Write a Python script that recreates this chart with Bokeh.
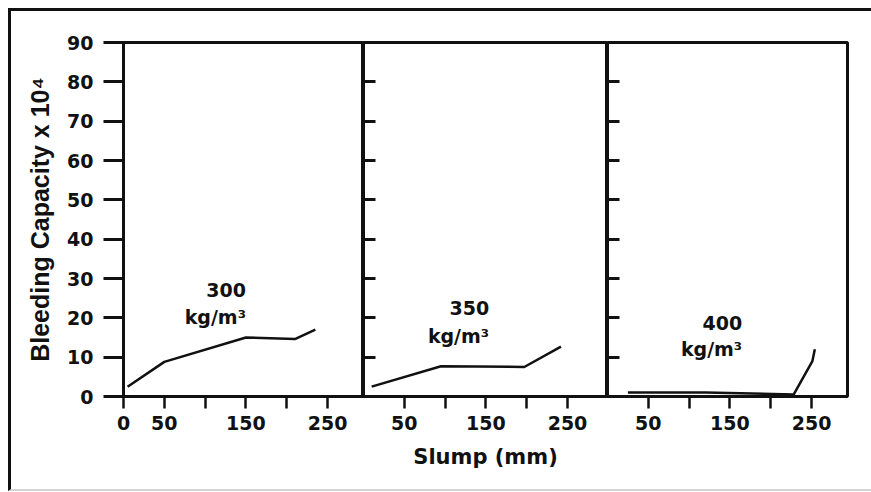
from bokeh.plotting import figure
from bokeh.layouts import row
from bokeh.models import Range1d, FixedTicker, Label
from bokeh.embed import file_html
from bokeh.resources import INLINE

# ---- data ----
slump_300 = [5, 50, 150, 210, 235]
bleed_300 = [2.5, 8.8, 15.0, 14.6, 17.0]
slump_350 = [10, 95, 197, 242]
bleed_350 = [2.5, 7.7, 7.5, 12.7]
slump_400 = [25, 120, 228, 251, 254]
bleed_400 = [1.0, 1.0, 0.5, 9.0, 12.0]

cement_contents = ["300", "350", "400"]
unit_text = "kg/m³"
y_ticks = [0, 10, 20, 30, 40, 50, 60, 70, 80, 90]
x_labeled_first = [0, 50, 150, 250]
x_labeled_other = [50, 150, 250]
x_unlabeled = [100, 200]
y_title = "Bleeding Capacity x 10⁴"
x_title = "Slump (mm)"

FONT = "DejaVu Sans"
YFONT = "Liberation Sans"
INK = "#111111"


def make_panel(slump, bleed, content, frame_w, xmax, first=False, middle=False,
               last=False, label_x=150, label_y=27, unit_y=20):
    p = figure(output_backend="svg", toolbar_location=None,
               frame_width=frame_w, frame_height=354,
               x_range=Range1d(0, xmax), y_range=Range1d(0, 90),
               min_border_left=112 if first else 0,
               min_border_right=24 if last else 0,
               min_border_top=31, min_border_bottom=93,
               background_fill_color="white", border_fill_color="white")
    p.grid.visible = False
    p.outline_line_color = INK
    p.outline_line_width = 3

    xa = p.xaxis[0]
    xa.ticker = FixedTicker(ticks=x_labeled_first if first else x_labeled_other,
                            minor_ticks=x_unlabeled)
    xa.major_tick_out = 12
    xa.major_tick_in = 0
    xa.minor_tick_out = 12
    xa.minor_tick_in = 0
    xa.major_tick_line_width = 2.5
    xa.minor_tick_line_width = 2.5
    xa.major_tick_line_color = INK
    xa.minor_tick_line_color = INK
    xa.axis_line_width = 3
    xa.axis_line_color = INK
    xa.major_label_text_font = FONT
    xa.major_label_text_font_style = "bold"
    xa.major_label_text_font_size = "19px"
    xa.major_label_text_color = INK
    xa.major_label_standoff = 7
    if middle:
        xa.axis_label = x_title
        xa.axis_label_text_font = FONT
        xa.axis_label_text_font_style = "bold"
        xa.axis_label_text_font_size = "21px"
        xa.axis_label_text_color = INK
        xa.axis_label_standoff = 12

    ya = p.yaxis[0]
    ya.axis_line_width = 3
    ya.axis_line_color = INK
    if first:
        ya.ticker = FixedTicker(ticks=y_ticks)
        ya.minor_tick_line_color = None
        ya.major_tick_line_width = 3
        ya.major_tick_line_color = INK
        ya.major_tick_out = 20
        ya.major_tick_in = 0
        ya.major_label_text_font = FONT
        ya.major_label_text_font_style = "bold"
        ya.major_label_text_font_size = "19px"
        ya.major_label_text_color = INK
        ya.major_label_standoff = 10
        ya.axis_label = y_title
        ya.axis_label_text_font = YFONT
        ya.axis_label_text_font_style = "bold"
        ya.axis_label_text_font_size = "25px"
        ya.axis_label_text_color = INK
        ya.axis_label_standoff = 10
    else:
        # inner ticks only, no labels
        ya.ticker = FixedTicker(ticks=[], minor_ticks=y_ticks)
        ya.major_tick_line_color = None
        ya.minor_tick_line_color = INK
        ya.minor_tick_line_width = 3
        ya.minor_tick_out = 0
        ya.minor_tick_in = 12
        ya.major_label_standoff = 0

    p.line(slump, bleed, line_color=INK, line_width=2.5)

    for txt, yy in ((content, label_y), (unit_text, unit_y)):
        p.add_layout(Label(x=label_x, y=yy, text=txt, text_align="right",
                           text_baseline="alphabetic", text_font=FONT,
                           text_font_style="bold", text_font_size="19px",
                           text_color=INK))
    return p


p1 = make_panel(slump_300, bleed_300, cement_contents[0], 240, 294, first=True,
                label_x=150, label_y=27, unit_y=20.3)
p2 = make_panel(slump_350, bleed_350, cement_contents[1], 244, 299, middle=True,
                label_x=154, label_y=22.4, unit_y=15.3)
p3 = make_panel(slump_400, bleed_400, cement_contents[2], 240, 294, last=True,
                label_x=165, label_y=18.8, unit_y=12.2)

layout = row(p1, p2, p3, spacing=0,
             styles={"margin-left": "8px", "margin-top": "8px",
                     "border-left": "3px solid #111111",
                     "border-top": "3px solid #111111",
                     "border-bottom": "2px solid #d4d4d4"})

open("out.html", "w").write(file_html(layout, INLINE))
